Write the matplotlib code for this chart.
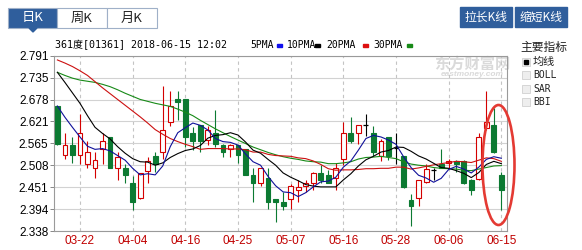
import matplotlib
matplotlib.use("Agg")
import matplotlib.pyplot as plt
from matplotlib.patches import Rectangle, Ellipse, Polygon
import numpy as np

plt.rcParams['font.family'] = ['Liberation Sans', 'Noto Sans CJK SC', 'DejaVu Sans']

# ---- data ----
dates = ['03-19', '03-20', '03-21', '03-22', '03-23', '03-26', '03-27', '03-28', '03-29',
         '04-03', '04-04', '04-06', '04-09', '04-10', '04-11', '04-12', '04-13', '04-16',
         '04-17', '04-18', '04-19', '04-20', '04-23', '04-24', '04-25', '04-26', '04-27',
         '04-30', '05-02', '05-03', '05-04', '05-07', '05-08', '05-09', '05-10', '05-11',
         '05-14', '05-15', '05-16', '05-17', '05-18', '05-21', '05-23', '05-24', '05-25',
         '05-28', '05-29', '05-30', '05-31', '06-01', '06-04', '06-05', '06-06', '06-07',
         '06-08', '06-11', '06-12', '06-13', '06-14', '06-15']

opens = [2.661, 2.534, 2.560, 2.534, 2.512, 2.502, 2.551, 2.580, 2.502, 2.500,
         2.461, 2.422, 2.492, 2.531, 2.542, 2.620, 2.678, 2.679, 2.590, 2.612,
         2.573, 2.590, 2.560, 2.551, 2.561, 2.549, 2.483, 2.463, 2.474, 2.421,
         2.414, 2.421, 2.443, 2.453, 2.463, 2.489, 2.483, 2.474, 2.524, 2.590,
         2.592, 2.611, 2.590, 2.531, 2.580, 2.552, 2.531, 2.419, 2.422, 2.465,
         2.495, 2.510, 2.514, 2.519, 2.520, 2.471, 2.473, 2.603, 2.612, 2.482]
highs = [2.662, 2.590, 2.582, 2.640, 2.570, 2.542, 2.590, 2.580, 2.542, 2.512,
         2.480, 2.489, 2.530, 2.542, 2.712, 2.700, 2.700, 2.679, 2.607, 2.613,
         2.609, 2.650, 2.562, 2.562, 2.561, 2.549, 2.500, 2.501, 2.500, 2.421,
         2.440, 2.460, 2.470, 2.470, 2.490, 2.509, 2.496, 2.515, 2.620, 2.633,
         2.613, 2.640, 2.609, 2.577, 2.580, 2.590, 2.533, 2.433, 2.471, 2.512,
         2.500, 2.551, 2.525, 2.521, 2.522, 2.472, 2.590, 2.700, 2.656, 2.491]
lows = [2.561, 2.523, 2.513, 2.511, 2.502, 2.474, 2.512, 2.502, 2.471, 2.462,
        2.391, 2.420, 2.461, 2.491, 2.525, 2.609, 2.625, 2.555, 2.547, 2.543,
        2.560, 2.555, 2.530, 2.530, 2.513, 2.482, 2.414, 2.453, 2.394, 2.362,
        2.393, 2.394, 2.414, 2.440, 2.443, 2.463, 2.461, 2.444, 2.508, 2.566,
        2.562, 2.583, 2.531, 2.519, 2.521, 2.512, 2.450, 2.352, 2.402, 2.461,
        2.469, 2.500, 2.500, 2.490, 2.460, 2.432, 2.471, 2.600, 2.540, 2.391]
closes = [2.562, 2.559, 2.534, 2.590, 2.541, 2.521, 2.571, 2.502, 2.530, 2.482,
          2.413, 2.488, 2.519, 2.511, 2.600, 2.660, 2.672, 2.582, 2.571, 2.571,
          2.598, 2.562, 2.543, 2.560, 2.535, 2.483, 2.463, 2.500, 2.414, 2.414,
          2.403, 2.453, 2.451, 2.462, 2.489, 2.470, 2.463, 2.500, 2.591, 2.571,
          2.611, 2.611, 2.543, 2.571, 2.531, 2.552, 2.452, 2.403, 2.471, 2.499,
          2.495, 2.502, 2.520, 2.511, 2.463, 2.443, 2.580, 2.620, 2.543, 2.443]

ma5 = [2.661, 2.632, 2.606, 2.581, 2.557, 2.549, 2.551, 2.545, 2.533, 2.521,
       2.500, 2.483, 2.486, 2.483, 2.506, 2.556, 2.592, 2.605, 2.617, 2.611,
       2.599, 2.577, 2.569, 2.567, 2.560, 2.537, 2.517, 2.508, 2.479, 2.455,
       2.439, 2.437, 2.427, 2.437, 2.452, 2.465, 2.467, 2.477, 2.503, 2.519,
       2.547, 2.577, 2.585, 2.581, 2.573, 2.562, 2.530, 2.502, 2.482, 2.475,
       2.464, 2.474, 2.497, 2.505, 2.498, 2.488, 2.503, 2.523, 2.530, 2.526]
ma10 = [2.748, 2.722, 2.695, 2.668, 2.636, 2.606, 2.590, 2.576, 2.556, 2.539,
        2.525, 2.517, 2.516, 2.508, 2.514, 2.528, 2.538, 2.546, 2.550, 2.559,
        2.578, 2.585, 2.587, 2.592, 2.586, 2.568, 2.547, 2.539, 2.523, 2.508,
        2.488, 2.477, 2.468, 2.458, 2.454, 2.452, 2.452, 2.452, 2.470, 2.486,
        2.506, 2.522, 2.531, 2.542, 2.546, 2.555, 2.554, 2.544, 2.532, 2.524,
        2.513, 2.502, 2.500, 2.494, 2.487, 2.476, 2.489, 2.510, 2.518, 2.512]
ma20 = [2.780, 2.772, 2.763, 2.752, 2.740, 2.724, 2.708, 2.693, 2.678, 2.663,
        2.648, 2.633, 2.617, 2.600, 2.588, 2.577, 2.569, 2.562, 2.556, 2.549,
        2.551, 2.551, 2.551, 2.550, 2.550, 2.548, 2.542, 2.542, 2.536, 2.533,
        2.532, 2.531, 2.527, 2.525, 2.519, 2.510, 2.499, 2.495, 2.496, 2.496,
        2.497, 2.499, 2.499, 2.500, 2.500, 2.503, 2.503, 2.498, 2.501, 2.505,
        2.509, 2.512, 2.515, 2.518, 2.517, 2.515, 2.521, 2.527, 2.525, 2.518]
ma30 = [2.748, 2.740, 2.733, 2.728, 2.725, 2.722, 2.717, 2.711, 2.703, 2.694,
        2.686, 2.678, 2.673, 2.668, 2.664, 2.660, 2.653, 2.645, 2.636, 2.624,
        2.613, 2.602, 2.592, 2.582, 2.573, 2.564, 2.555, 2.548, 2.541, 2.535,
        2.530, 2.526, 2.523, 2.519, 2.517, 2.516, 2.512, 2.512, 2.514, 2.517,
        2.524, 2.528, 2.529, 2.531, 2.528, 2.525, 2.517, 2.511, 2.508, 2.506,
        2.502, 2.500, 2.499, 2.498, 2.495, 2.494, 2.498, 2.502, 2.506, 2.507]

tick_dates = ['03-22', '04-04', '04-16', '04-25', '05-07', '05-16', '05-28', '06-06', '06-15']
y_labels = ['2.338', '2.394', '2.451', '2.508', '2.565', '2.621', '2.678', '2.735', '2.791']

UP = '#d40000'
DOWN = '#0c7a32'
W, H = 582, 250


def fx(x):
    return x / W


def fy(y):
    return 1 - y / H


fig = plt.figure(figsize=(5.82, 2.5), dpi=100)
ax = fig.add_axes([fx(54), fy(231), (507 - 54) / W, (231 - 55.7) / H])

x = np.arange(len(dates))
o = np.array(opens)
c = np.array(closes)
h = np.array(highs)
l = np.array(lows)
bw = 0.64

up = c > o
dn = c < o
dj = c == o

# wicks
ax.vlines(x[up], l[up], h[up], color=UP, lw=0.8, zorder=3)
ax.vlines(x[dn], l[dn], h[dn], color=DOWN, lw=0.8, zorder=3)
ax.vlines(x[dj], l[dj], h[dj], color='black', lw=0.8, zorder=3)
# bodies
ax.bar(x[up], c[up] - o[up], bw, bottom=o[up], color='white', edgecolor=UP, lw=0.8, zorder=4)
ax.bar(x[dn], o[dn] - c[dn], bw, bottom=c[dn], color=DOWN, edgecolor=DOWN, lw=0.8, zorder=4)
ax.hlines(o[dj], x[dj] - bw / 2, x[dj] + bw / 2, color='black', lw=0.9, zorder=4)

# moving averages
ax.plot(x, ma30, color='#178a17', lw=0.8, zorder=5)
ax.plot(x, ma20, color='#cc1010', lw=0.8, zorder=5)
ax.plot(x, ma10, color='black', lw=0.8, zorder=5)
ax.plot(x, ma5, color='#10109a', lw=0.8, zorder=5)

ax.set_xlim(-0.45, 59.75)
ax.set_ylim(2.338, 2.791)

yt = np.linspace(2.338, 2.791, len(y_labels))
ax.set_yticks(yt)
ax.set_yticklabels(y_labels, fontsize=8.5)
xt = [dates.index(d) for d in tick_dates]
ax.set_xticks(xt)
ax.set_xticklabels(tick_dates, fontsize=8.5, color='#c00000')
ax.tick_params(axis='y', length=3, width=0.7, color='#888888', pad=1)
ax.tick_params(axis='x', length=0, pad=3)

ax.grid(axis='y', color='#d2d2d2', lw=0.8, zorder=0)
ax.grid(axis='x', color='#c4c4c4', lw=0.8, ls=(0, (3, 3)), zorder=0)
for s in ax.spines.values():
    s.set_color('#9a9a9a')
    s.set_linewidth(0.8)

# watermark
ax.text(fx(472), fy(64), '东方财富网', transform=fig.transFigure, ha='center', va='center',
        fontsize=11, fontweight='bold', color='#dadada', zorder=1)
ax.text(fx(472), fy(75), 'eastmoney.com', transform=fig.transFigure, ha='center', va='center',
        fontsize=6, fontweight='bold', style='italic', color='#dadada', zorder=1)

# header
fig.text(fx(55), fy(45), '361度[01361] 2018-06-15 12:02', ha='left', va='center',
         fontsize=7.2, family=['DejaVu Sans Mono', 'Noto Sans CJK SC'])
legend_items = [('5PMA', 250, 277, '#1010ee'), ('10PMA', 287, 315, 'black'),
                ('20PMA', 326, 363, '#dd1010'), ('30PMA', 373, 407, '#178a17')]
for name, tx, dx, col in legend_items:
    fig.text(fx(tx), fy(45), name, ha='left', va='center', fontsize=7,
             family=['DejaVu Sans Mono'])
    fig.patches.append(Rectangle((fx(dx), fy(46.5)), 5 / W, 3 / H, transform=fig.transFigure,
                                 color=col, figure=fig))

# tabs
BLUE = '#2f5e9c'
tabs = [('日K', 8, 57), ('周K', 57, 107), ('月K', 107, 157)]
for i, (name, a, b) in enumerate(tabs):
    sel = i == 0
    fig.patches.append(Rectangle((fx(a), fy(28)), (b - a) / W, 20 / H, transform=fig.transFigure,
                                 facecolor=BLUE if sel else 'white', edgecolor='#9fb0c8',
                                 lw=0.8, figure=fig))
    fig.text(fx((a + b) / 2), fy(18), name, ha='center', va='center', fontsize=9.5,
             color='white' if sel else '#222222', family=['Noto Sans CJK SC'])
fig.patches.append(Polygon([(fx(29), fy(28)), (fx(37), fy(28)), (fx(33), fy(32))], closed=True,
                           transform=fig.transFigure, color=BLUE, figure=fig))

for name, a, b in [('拉长K线', 460, 512), ('缩短K线', 515, 567)]:
    fig.patches.append(Rectangle((fx(a), fy(27)), (b - a) / W, 20 / H, transform=fig.transFigure,
                                 facecolor=BLUE, edgecolor=BLUE, figure=fig))
    fig.text(fx((a + b) / 2), fy(17), name, ha='center', va='center', fontsize=8.5,
             color='white', family=['Noto Sans CJK SC'])

# side panel
fig.text(fx(520), fy(48), '主要指标', ha='left', va='center', fontsize=8.5,
         family=['Noto Sans CJK SC'], color='#222222')
side = [('均线', 62, True), ('BOLL', 75, False), ('SAR', 89, False), ('BBI', 102.5, False)]
for name, yy, on in side:
    fig.patches.append(Rectangle((fx(522), fy(yy + 4)), 8 / W, 8 / H, transform=fig.transFigure,
                                 facecolor='#eeeeee', edgecolor='#d0d0d0', lw=0.6, figure=fig))
    if on:
        fig.patches.append(Rectangle((fx(524), fy(yy + 2)), 4 / W, 4 / H,
                                     transform=fig.transFigure, color='black', figure=fig))
    fig.text(fx(533), fy(yy), name, ha='left', va='center', fontsize=8 if on else 7,
             family=['Noto Sans CJK SC'] if on else ['DejaVu Sans Mono'], color='#222222')

# highlight ellipse around last candles
fig.patches.append(Ellipse((fx(498.5), fy(165)), 32 / W, 120 / H, transform=fig.transFigure,
                           fill=False, edgecolor='#e43a33', lw=1.9, figure=fig, zorder=10))

fig.savefig('out.png', dpi=100)
